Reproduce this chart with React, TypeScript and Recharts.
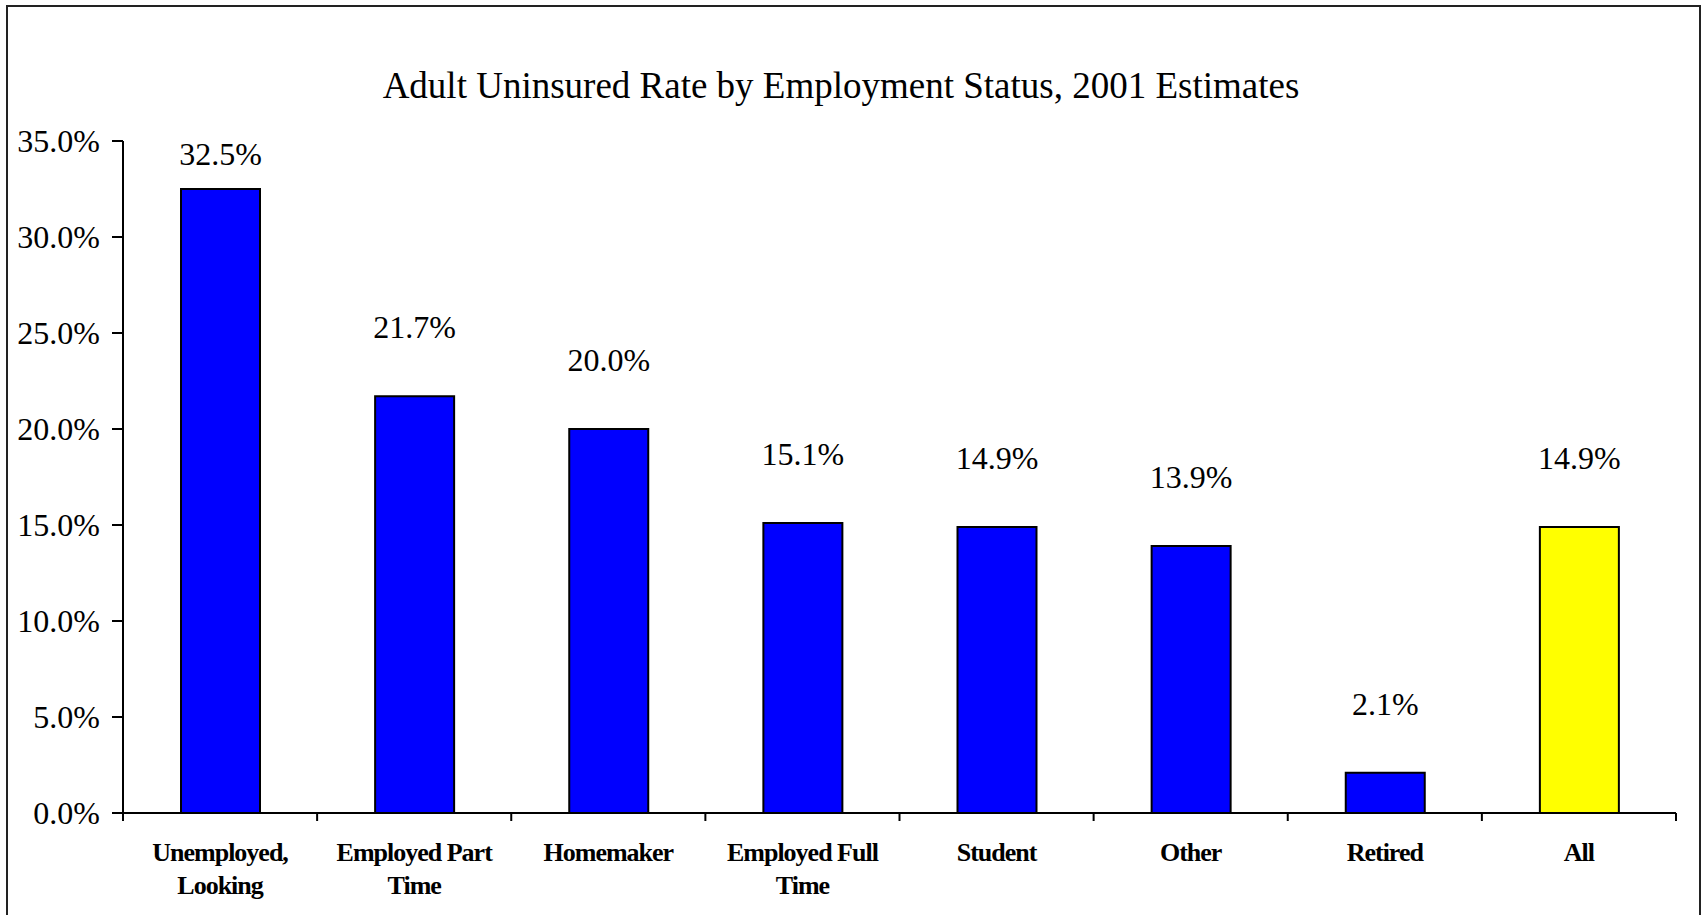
import React from 'react';
import { BarChart, Bar, XAxis, YAxis, Cell, LabelList } from 'recharts';

const categories = [
  'Unemployed,\nLooking',
  'Employed Part\nTime',
  'Homemaker',
  'Employed Full\nTime',
  'Student',
  'Other',
  'Retired',
  'All',
];
const uninsuredRate = [32.5, 21.7, 20.0, 15.1, 14.9, 13.9, 2.1, 14.9];
const yTicks = [0, 5, 10, 15, 20, 25, 30, 35];

const barColors = ['#0000FF', '#0000FF', '#0000FF', '#0000FF', '#0000FF', '#0000FF', '#0000FF', '#FFFF00'];

const W = 1706;
const H = 915;
const PLOT_LEFT = 123;
const PLOT_RIGHT = 1676;
const PLOT_TOP = 141;
const PLOT_BOTTOM = 813;
const BAND = (PLOT_RIGHT - PLOT_LEFT) / categories.length;
const FONT = '"Liberation Serif", "Times New Roman", serif';

const data = categories.map((name, i) => ({ name, value: uninsuredRate[i] }));

function CategoryTick(props: any) {
  const { x, payload, index } = props;
  const lines = String(payload.value).split('\n');
  const left = x - BAND / 2;
  return (
    <g>
      <line x1={left} x2={left} y1={PLOT_BOTTOM} y2={PLOT_BOTTOM + 8} stroke="#000" strokeWidth={2} />
      {index === categories.length - 1 && (
        <line x1={x + BAND / 2} x2={x + BAND / 2} y1={PLOT_BOTTOM} y2={PLOT_BOTTOM + 8} stroke="#000" strokeWidth={2} />
      )}
      {lines.map((line, i) => (
        <text
          key={i}
          x={x}
          y={PLOT_BOTTOM + 48 + i * 33}
          textAnchor="middle"
          fontFamily={FONT}
          fontWeight="bold"
          fontSize={26}
          letterSpacing={-1}
          fill="#000"
        >
          {line}
        </text>
      ))}
    </g>
  );
}

function ValueLabel(props: any) {
  const { x, y, width, value } = props;
  // keep the label inside the plot box like the spreadsheet does
  const baseline = Math.max(Number(y) - 58, PLOT_TOP + 24);
  return (
    <text
      x={Number(x) + Number(width) / 2}
      y={baseline}
      textAnchor="middle"
      fontFamily={FONT}
      fontSize={32}
      fill="#000"
    >
      {Number(value).toFixed(1)}%
    </text>
  );
}

export default function App() {
  return (
    <div style={{ position: 'fixed', left: 0, top: 0, width: W, height: H, overflow: 'hidden', background: '#fff' }}>
      <div
        style={{
          position: 'absolute',
          left: 6,
          top: 5,
          width: 1695,
          height: 1000,
          border: '2px solid #222',
          boxSizing: 'border-box',
        }}
      />
      <div
        style={{
          position: 'absolute',
          left: -12,
          top: 67,
          width: W,
          textAlign: 'center',
          fontFamily: FONT,
          fontSize: 37,
          lineHeight: '37px',
          color: '#000',
        }}
      >
        Adult Uninsured Rate by Employment Status, 2001 Estimates
      </div>
      <div style={{ position: 'absolute', left: 0, top: 0 }}>
        <BarChart
          width={W}
          height={H}
          data={data}
          margin={{ top: PLOT_TOP, right: W - PLOT_RIGHT, bottom: 22, left: 0 }}
          barSize={79}
        >
          <XAxis
            xAxisId="main"
            dataKey="name"
            height={80}
            interval={0}
            tickLine={false}
            axisLine={{ stroke: '#000', strokeWidth: 2 }}
            tick={<CategoryTick />}
          />
          <XAxis
            xAxisId="frame"
            orientation="top"
            dataKey="name"
            height={0}
            tick={false}
            tickLine={false}
            axisLine={{ stroke: '#333', strokeWidth: 2 }}
          />
          <YAxis
            yAxisId="main"
            width={PLOT_LEFT}
            domain={[0, 35]}
            ticks={yTicks}
            interval={0}
            tickSize={11}
            tickMargin={12}
            tickFormatter={(v: number) => `${v.toFixed(1)}%`}
            tick={{ fontFamily: FONT, fontSize: 32, fill: '#000' }}
            tickLine={{ stroke: '#000', strokeWidth: 2 }}
            axisLine={{ stroke: '#000', strokeWidth: 2 }}
          />
          <YAxis
            yAxisId="frame"
            orientation="right"
            width={0}
            domain={[0, 35]}
            tick={false}
            tickLine={false}
            axisLine={{ stroke: '#333', strokeWidth: 2 }}
          />
          <Bar
            dataKey="value"
            xAxisId="main"
            yAxisId="main"
            stroke="#000"
            strokeWidth={2}
            isAnimationActive={false}
          >
            {data.map((d, i) => (
              <Cell key={d.name} fill={barColors[i]} />
            ))}
            <LabelList dataKey="value" content={<ValueLabel />} />
          </Bar>
        </BarChart>
      </div>
    </div>
  );
}
